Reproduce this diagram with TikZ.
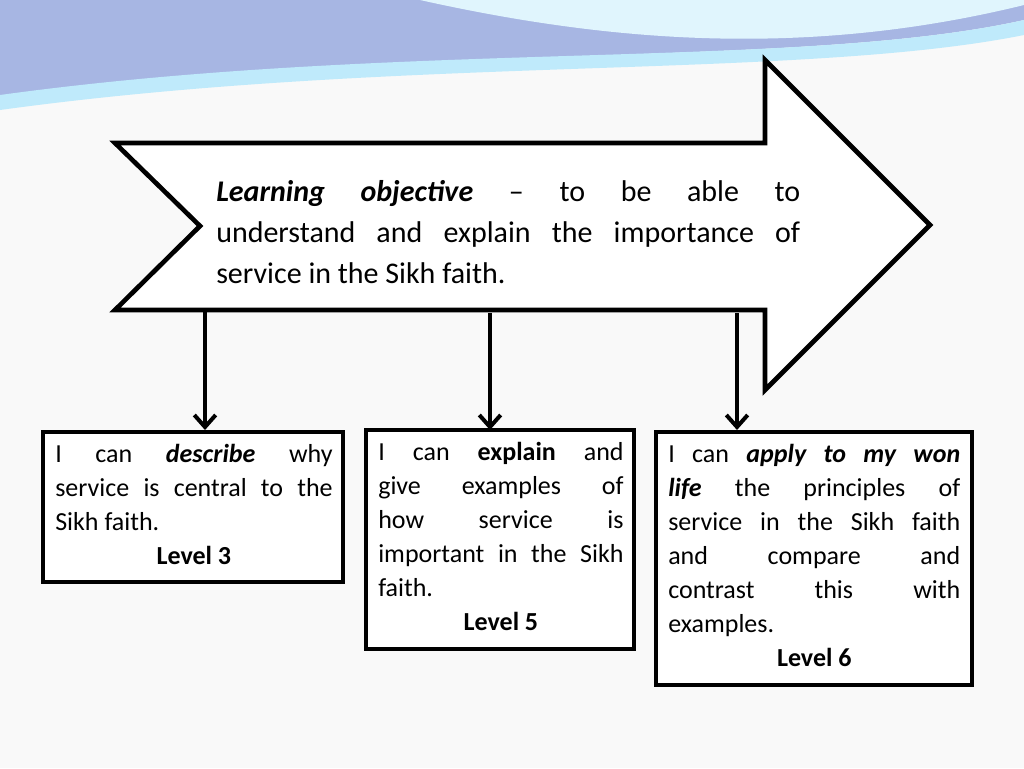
\documentclass[tikz,border=0pt]{standalone}
\usepackage{fontspec}
\setmainfont{Carlito}
\usetikzlibrary{arrows.meta}
\begin{document}
\begin{tikzpicture}[x=0.75pt,y=-0.75pt,
  box/.style={draw=black,line width=3.5pt,fill=white},
  txt/.style={anchor=north west,inner sep=0pt,align=justify,font=\fontsize{19.5}{25.5}\selectfont},
  dn/.style={line width=3.5pt,-{Straight Barb[length=9pt,width=16pt,line width=3pt]}}]
\useasboundingbox (0,0) rectangle (1024,768);
\fill[gray!5] (0,0) rectangle (1024,768);
% top waves
\fill[cyan!40!blue!35] (0,0) -- (1024,0) -- (1024,20) .. controls (800,70) and (400,40) .. (0,100) -- cycle;
\fill[cyan!25] (0,95) .. controls (400,40) and (800,70) .. (1024,20) -- (1024,35) .. controls (800,80) and (400,55) .. (0,110) -- cycle;
\fill[cyan!12] (420,0) .. controls (600,40) and (800,60) .. (1024,5) -- (1024,0) -- cycle;
% big arrow
\draw[box,line join=miter] (115,143) -- (765,143) -- (765,60) -- (930,225) -- (765,390) -- (765,310) -- (115,310) -- (200,226) -- cycle;
\node[txt,text width=438pt,font=\fontsize{22.5}{30.75}\selectfont] (obj) at (216,180)
 {\textbf{\textit{Learning objective}} -- to be able to\linebreak understand and explain the importance of\linebreak service in the Sikh faith.};
\coordinate (s1) at (205,310);
\coordinate (s2) at (490,313);
\coordinate (s3) at (737,313);
\coordinate (e1) at (205,430);
\coordinate (e2) at (490,430);
\coordinate (e3) at (737,430);
\draw[dn] (s1) -- (e1);
\draw[dn] (s2) -- (e2);
\draw[dn] (s3) -- (e3);
% boxes
\draw[box] (43,432) rectangle (343,582);
\draw[box] (366,430) rectangle (634,649);
\draw[box] (656,432) rectangle (972,685);
\node[txt,text width=208pt] (t1) at (55,444)
 {I can \textbf{\textit{describe}} why\linebreak service is central to the\linebreak Sikh faith.\par\centerline{\textbf{Level 3}}};
\node[txt,text width=184pt] (t2) at (378,442)
 {I can \textbf{explain} and\linebreak give examples of\linebreak how service is\linebreak important in the Sikh\linebreak faith.\par\centerline{\textbf{Level 5}}};
\node[txt,text width=219pt] (t3) at (668,444)
 {I can \textbf{\textit{apply to my won}}\linebreak \textbf{\textit{life}} the principles of\linebreak service in the Sikh faith\linebreak and compare and\linebreak contrast this with\linebreak examples.\par\centerline{\textbf{Level 6}}};
\end{tikzpicture}
\end{document}
